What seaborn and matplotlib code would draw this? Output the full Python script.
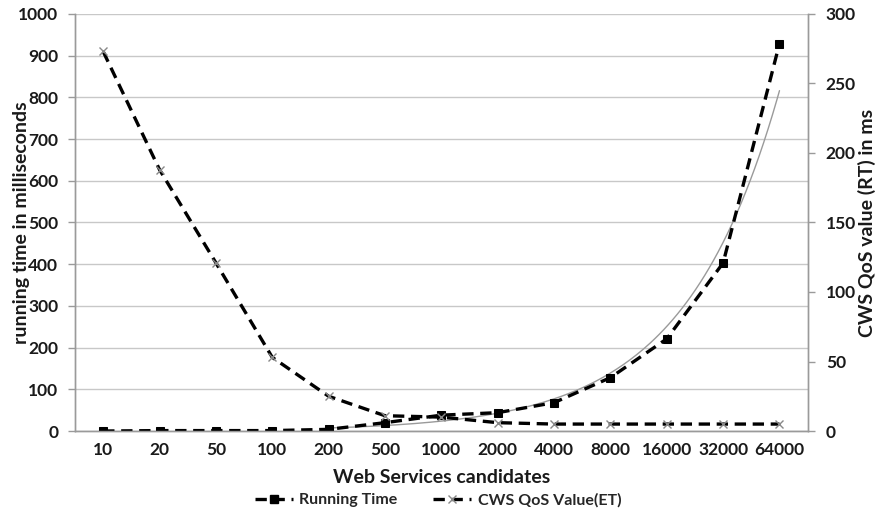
import numpy as np
import pandas as pd
import matplotlib
matplotlib.use("Agg")
import matplotlib.pyplot as plt
import seaborn as sns

# Number of candidate web services (categorical x axis)
candidates = ["10", "20", "50", "100", "200", "500", "1000", "2000",
              "4000", "8000", "16000", "32000", "64000"]

# Running time in milliseconds (left axis)
running_time = [0, 1, 1, 1, 4, 20, 38, 44, 68, 128, 221, 403, 929]

# CWS QoS value in ms (right axis)
cws_qos = [273, 188, 121, 53, 25, 11, 10, 6, 5, 5, 5, 5, 5]

sns.set_theme(style="white")
plt.rcParams["font.family"] = ["Lato", "DejaVu Sans"]

df = pd.DataFrame({
    "pos": np.arange(len(candidates)),
    "candidates": candidates,
    "running_time": running_time,
    "cws_qos": cws_qos,
})

fig = plt.figure(figsize=(8.76, 5.16), dpi=100)
ax = fig.add_axes([0.0856, 0.1647, 0.8364, 0.8083])
ax2 = ax.twinx()

dash = (0, (3.4, 2.0))

# exponential trend of the running time, fitted from 200 candidates upward
fit_pos = df["pos"].values[4:]
fit_val = np.log(np.array(running_time[4:], dtype=float))
slope, intercept = np.polyfit(fit_pos, fit_val, 1)
trend_x = np.linspace(fit_pos[0], fit_pos[-1], 200)
trend_y = np.exp(intercept + slope * trend_x)
sns.lineplot(x=trend_x, y=trend_y, ax=ax, color="#9a9a9a", linewidth=1.0,
             zorder=3, legend=False)

sns.lineplot(data=df, x="pos", y="running_time", ax=ax, color="black",
             linewidth=2.4, linestyle=dash, marker="s", markersize=6,
             markeredgecolor="black", zorder=4, legend=False)

sns.lineplot(data=df, x="pos", y="cws_qos", ax=ax2, color="black",
             linewidth=2.4, linestyle=dash, marker="x", markersize=6,
             markeredgecolor="#888888", markeredgewidth=1.0, zorder=4,
             legend=False)

# axes ranges and ticks
ax.set_xlim(-0.5, len(candidates) - 0.5)
ax.set_ylim(0, 1000)
ax2.set_ylim(0, 300)
ax.set_yticks(np.arange(0, 1001, 100))
ax2.set_yticks(np.arange(0, 301, 50))
ax.set_xticks(df["pos"])
ax.set_xticklabels(candidates)
ax.set_xticks(np.arange(-0.5, len(candidates), 1.0), minor=True)

ax.grid(axis="y", color="#c8c8c8", linewidth=1.0)
ax.set_axisbelow(True)
ax2.grid(False)

for lab in ax.get_xticklabels() + ax.get_yticklabels() + ax2.get_yticklabels():
    lab.set_fontsize(12.5)
    lab.set_fontweight("bold")
    lab.set_color("#1a1a1a")

ax.tick_params(axis="x", which="major", length=0, pad=8)
ax.tick_params(axis="x", which="minor", length=5, color="#9a9a9a", width=1)
ax.tick_params(axis="y", length=5, color="#9a9a9a", width=1, pad=7, left=True)
ax2.tick_params(axis="y", length=5, color="#9a9a9a", width=1, pad=8, right=True)

for a in (ax, ax2):
    a.spines["top"].set_visible(False)
    for side in ("left", "bottom", "right"):
        a.spines[side].set_color("#9a9a9a")
        a.spines[side].set_linewidth(1.0)

label_font = dict(fontsize=14, fontweight="bold", color="#1a1a1a")
ax.set_xlabel("Web Services candidates", **label_font)
ax.xaxis.set_label_coords(0.5, -0.09)
ax.set_ylabel("running time in milliseconds", **label_font)
ax.yaxis.set_label_coords(-0.062, 0.5)
ax2.set_ylabel("CWS QoS value (RT) in ms", rotation=90, **label_font)
ax2.yaxis.set_label_coords(1.068, 0.5)

# legend below the axis title
h1 = plt.Line2D([], [], color="black", linewidth=2.4, linestyle=dash,
                marker="s", markersize=6)
h2 = plt.Line2D([], [], color="black", linewidth=2.4, linestyle=dash,
                marker="x", markersize=6, markeredgecolor="#888888",
                markeredgewidth=1.0)
fig.legend([h1, h2], ["Running Time", "CWS QoS Value(ET)"],
           loc="center", bbox_to_anchor=(0.5, 0.031), ncol=2, frameon=False,
           prop={"family": "Lato", "weight": "bold", "size": 11.5},
           handlelength=2.4, columnspacing=2.2, handletextpad=0.4)

fig.savefig("out.png", dpi=100)
